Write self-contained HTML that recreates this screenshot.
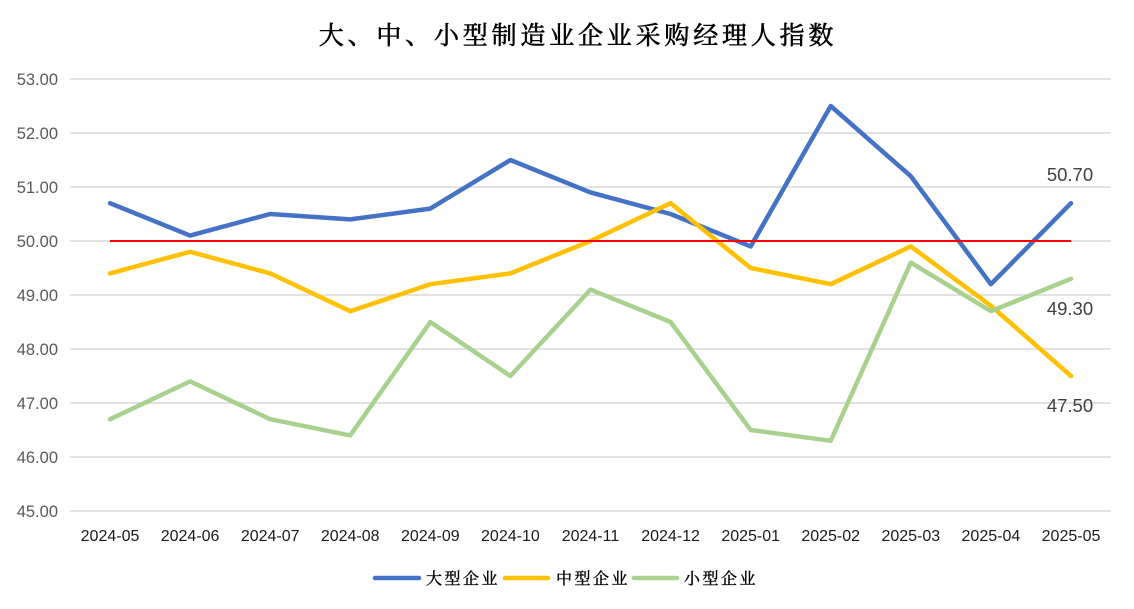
<!DOCTYPE html>
<html>
<head>
<meta charset="utf-8">
<style>
  html, body { margin: 0; padding: 0; background: #ffffff; }
  body { width: 1134px; height: 609px; overflow: hidden; }
  svg { display: block; }
</style>
</head>
<body>
<svg width="1134" height="609" viewBox="0 0 1134 609" xmlns="http://www.w3.org/2000/svg">
  <rect x="0" y="0" width="1134" height="609" fill="#ffffff"/>
  <!-- Title -->
  <text x="578" y="44" text-anchor="middle" font-family="'Liberation Serif','Noto Serif CJK SC',serif" font-size="25" font-weight="normal" stroke="#000" stroke-width="0.6" letter-spacing="3.8" fill="#000000">大、中、小型制造业企业采购经理人指数</text>

  <!-- Gridlines -->
  <g stroke="#d9d9d9" stroke-width="1.5">
    <line x1="70" y1="79" x2="1111" y2="79"/>
    <line x1="70" y1="133" x2="1111" y2="133"/>
    <line x1="70" y1="187" x2="1111" y2="187"/>
    <line x1="70" y1="241" x2="1111" y2="241"/>
    <line x1="70" y1="295" x2="1111" y2="295"/>
    <line x1="70" y1="349" x2="1111" y2="349"/>
    <line x1="70" y1="403" x2="1111" y2="403"/>
    <line x1="70" y1="457" x2="1111" y2="457"/>
    <line x1="70" y1="511" x2="1111" y2="511"/>
  </g>

  <!-- Y labels -->
  <g font-family="'Liberation Sans',sans-serif" font-size="16.5" fill="#595959" text-anchor="end">
    <text x="58" y="85">53.00</text>
    <text x="58" y="139">52.00</text>
    <text x="58" y="193">51.00</text>
    <text x="58" y="247">50.00</text>
    <text x="58" y="301">49.00</text>
    <text x="58" y="355">48.00</text>
    <text x="58" y="409">47.00</text>
    <text x="58" y="463">46.00</text>
    <text x="58" y="517">45.00</text>
  </g>

  <!-- X labels -->
  <g font-family="'Liberation Sans',sans-serif" font-size="16" fill="#1a1a1a" text-anchor="middle">
    <text x="110" y="541">2024-05</text>
    <text x="190.1" y="541">2024-06</text>
    <text x="270.2" y="541">2024-07</text>
    <text x="350.2" y="541">2024-08</text>
    <text x="430.3" y="541">2024-09</text>
    <text x="510.4" y="541">2024-10</text>
    <text x="590.5" y="541">2024-11</text>
    <text x="670.6" y="541">2024-12</text>
    <text x="750.7" y="541">2025-01</text>
    <text x="830.7" y="541">2025-02</text>
    <text x="910.8" y="541">2025-03</text>
    <text x="990.9" y="541">2025-04</text>
    <text x="1071" y="541">2025-05</text>
  </g>

  <!-- Series -->
  <g fill="none" stroke-width="4.5" stroke-linejoin="round" stroke-linecap="round">
    <polyline stroke="#4472C4" points="110,203.2 190.1,235.6 270.2,214 350.2,219.4 430.3,208.6 510.4,160 590.5,192.4 670.6,214 750.7,246.4 830.7,106 910.8,176.2 990.9,284.2 1071,203.2"/>
    <polyline stroke="#FFC000" points="110,273.4 190.1,251.8 270.2,273.4 350.2,311.2 430.3,284.2 510.4,273.4 590.5,241 670.6,203.2 750.7,268 830.7,284.2 910.8,246.4 990.9,305.8 1071,376"/>
    <polyline stroke="#A9D18E" points="110,419.2 190.1,381.4 270.2,419.2 350.2,435.4 430.3,322 510.4,376 590.5,289.6 670.6,322 750.7,430 830.7,440.8 910.8,262.6 990.9,311.2 1071,278.8"/>
  </g>

  <!-- 50 reference line -->
  <line x1="110" y1="241" x2="1071" y2="241" stroke="#FF0000" stroke-width="2"/>

  <!-- End labels -->
  <g font-family="'Liberation Sans',sans-serif" font-size="18.5" fill="#404040" text-anchor="middle">
    <text x="1070" y="181">50.70</text>
    <text x="1070" y="315">49.30</text>
    <text x="1070" y="412">47.50</text>
  </g>

  <!-- Legend -->
  <g stroke-width="4.5" stroke-linecap="round">
    <line x1="375" y1="578" x2="419" y2="578" stroke="#4472C4"/>
    <line x1="505" y1="578" x2="548" y2="578" stroke="#FFC000"/>
    <line x1="634" y1="578" x2="677" y2="578" stroke="#A9D18E"/>
  </g>
  <g font-family="'Liberation Serif','Noto Serif CJK SC',serif" font-size="16" font-weight="normal" stroke="#000" stroke-width="0.4" fill="#000000" letter-spacing="2.5">
    <text x="426" y="584">大型企业</text>
    <text x="556" y="584">中型企业</text>
    <text x="684" y="584">小型企业</text>
  </g>
</svg>
</body>
</html>
